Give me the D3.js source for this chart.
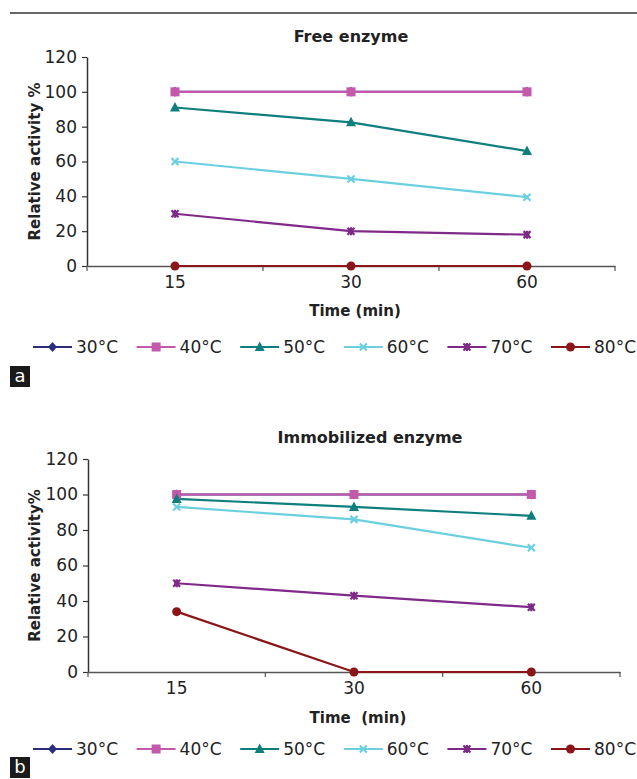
<!DOCTYPE html>
<html>
<head>
<meta charset="utf-8">
<script src="https://cdn.jsdelivr.net/npm/d3@7/dist/d3.min.js"></script>
<style>
  html, body { margin: 0; padding: 0; background: #fff; }
  svg { display: block; font-family: "DejaVu Sans", sans-serif; }
</style>
</head>
<body>
<svg id="chart" width="637" height="779"></svg>
<script>
// ---- data ----
const times = ["15", "30", "60"];
const seriesNames = ["30°C", "40°C", "50°C", "60°C", "70°C", "80°C"];
const yTicks = [0, 20, 40, 60, 80, 100, 120];

// Free enzyme (panel a)
const free30 = [100, 100, 100];
const free40 = [100, 100, 100];
const free50 = [91, 82.5, 66];
const free60 = [60, 50, 39.5];
const free70 = [30, 20, 18];
const free80 = [0, 0, 0];

// Immobilized enzyme (panel b)
const imm30 = [100, 100, 100];
const imm40 = [100, 100, 100];
const imm50 = [97.5, 93, 88];
const imm60 = [93, 86, 70];
const imm70 = [50, 43, 36.5];
const imm80 = [34, 0, 0];

const colors = ["#2b2d7e", "#c259ab", "#0f7f7d", "#6bcfe0", "#7f2a88", "#8a1619"];
const symbols = ["diamond", "square", "triangle", "cross", "star", "circle"];

const svg = d3.select("#chart");

// top rule
svg.append("line").attr("x1", 10).attr("x2", 637).attr("y1", 13).attr("y2", 13)
  .attr("stroke", "#333").attr("stroke-width", 1.5);

function marker(g, type, cx, cy, color) {
  if (type === "diamond") {
    g.append("path").attr("d", `M${cx},${cy-5}L${cx+4.5},${cy}L${cx},${cy+5}L${cx-4.5},${cy}Z`).attr("fill", color);
  } else if (type === "square") {
    g.append("rect").attr("x", cx-4.5).attr("y", cy-4.5).attr("width", 9).attr("height", 9).attr("fill", color);
  } else if (type === "triangle") {
    g.append("path").attr("d", `M${cx},${cy-5.5}L${cx+5},${cy+4}L${cx-5},${cy+4}Z`).attr("fill", color);
  } else if (type === "cross") {
    g.append("path").attr("d", `M${cx-3.5},${cy-3.5}L${cx+3.5},${cy+3.5}M${cx+3.5},${cy-3.5}L${cx-3.5},${cy+3.5}`)
      .attr("stroke", color).attr("stroke-width", 2.2);
  } else if (type === "star") {
    g.append("path").attr("d", `M${cx-3.5},${cy-3.5}L${cx+3.5},${cy+3.5}M${cx+3.5},${cy-3.5}L${cx-3.5},${cy+3.5}M${cx},${cy-4}L${cx},${cy+4}`)
      .attr("stroke", color).attr("stroke-width", 2.2);
    g.append("rect").attr("x", cx-2.5).attr("y", cy-2.5).attr("width", 5).attr("height", 5).attr("fill", color);
  } else if (type === "circle") {
    g.append("circle").attr("cx", cx).attr("cy", cy).attr("r", 4.5).attr("fill", color);
  }
}

function panel(opt) {
  const g = svg.append("g");
  const x = d3.scaleBand().domain(times).range([opt.x0, opt.x1]);
  const y = d3.scaleLinear().domain([0, 120]).range([opt.yBottom, opt.yTop]);

  // title
  g.append("text").attr("x", opt.titleX).attr("y", opt.titleY).attr("text-anchor", "middle")
    .attr("font-weight", "bold").attr("font-size", 16).attr("fill", "#222").text(opt.title);

  // y axis
  const ya = g.append("g").attr("transform", `translate(${opt.x0},0)`)
    .call(d3.axisLeft(y).tickValues(yTicks).tickSize(5).tickPadding(5).tickSizeOuter(0));
  ya.select(".domain").attr("stroke", "#333").attr("stroke-width", 1.5);
  ya.selectAll(".tick line").attr("stroke", "#333").attr("stroke-width", 1.2);
  ya.selectAll(".tick text").attr("font-size", 17).attr("font-family", "DejaVu Sans").attr("fill", "#222");

  // x axis
  const xa = g.append("g").attr("transform", `translate(0,${opt.yBottom})`)
    .call(d3.axisBottom(x).tickSize(0).tickPadding(10).tickSizeOuter(0));
  xa.select(".domain").attr("stroke", "#555").attr("stroke-width", 1.5);
  xa.selectAll(".tick text").attr("font-size", 17).attr("font-family", "DejaVu Sans").attr("fill", "#222");
  const bounds = d3.range(times.length + 1).map(i => opt.x0 + i * x.step());
  g.selectAll(".bt").data(bounds).enter().append("line")
    .attr("x1", d => d).attr("x2", d => d)
    .attr("y1", opt.yBottom).attr("y2", opt.yBottom + 5)
    .attr("stroke", "#555").attr("stroke-width", 1.2);

  // axis titles
  g.append("text").attr("transform", `translate(${opt.yTitleX},${(opt.yTop + opt.yBottom) / 2}) rotate(-90)`)
    .attr("text-anchor", "middle").attr("font-weight", "bold").attr("font-size", 15).attr("fill", "#222")
    .text(opt.yTitle);
  g.append("text").attr("x", opt.xTitleX).attr("y", opt.xTitleY).attr("text-anchor", "middle")
    .attr("font-weight", "bold").attr("font-size", 15).attr("fill", "#222")
    .attr("xml:space", "preserve").style("white-space", "pre")
    .text(opt.xTitle);

  // series lines
  const line = d3.line().x((d, i) => x(times[i]) + x.bandwidth() / 2).y(d => y(d));
  opt.data.forEach((vals, s) => {
    g.append("path").attr("d", line(vals)).attr("fill", "none")
      .attr("stroke", colors[s]).attr("stroke-width", 2.2);
  });
  opt.data.forEach((vals, s) => {
    vals.forEach((v, i) => marker(g, symbols[s], x(times[i]) + x.bandwidth() / 2, y(v), colors[s]));
  });

  // legend
  const lg = g.append("g");
  seriesNames.forEach((name, s) => {
    const lx = opt.legendX + s * opt.legendStep;
    lg.append("line").attr("x1", lx).attr("x2", lx + 39).attr("y1", opt.legendY).attr("y2", opt.legendY)
      .attr("stroke", colors[s]).attr("stroke-width", 2.2);
    marker(lg, symbols[s], lx + 19.5, opt.legendY, colors[s]);
    lg.append("text").attr("x", lx + 43).attr("y", opt.legendY + 6).attr("font-size", 17)
      .attr("fill", "#222").text(name);
  });

  // panel label
  g.append("rect").attr("x", 10).attr("y", opt.labelY).attr("width", 20).attr("height", 21).attr("fill", "#1a1a1a");
  g.append("text").attr("x", 20).attr("y", opt.labelY + 16).attr("text-anchor", "middle")
    .attr("font-size", 18).attr("fill", "#fff").text(opt.label);
}

panel({
  title: "Free enzyme", titleX: 351, titleY: 42,
  x0: 87, x1: 615, yTop: 57, yBottom: 266,
  yTitle: "Relative activity %", yTitleX: 40,
  xTitle: "Time (min)", xTitleX: 355, xTitleY: 316,
  data: [free30, free40, free50, free60, free70, free80],
  legendX: 33, legendStep: 103.6, legendY: 347,
  label: "a", labelY: 366
});

panel({
  title: "Immobilized enzyme", titleX: 370, titleY: 443,
  x0: 88, x1: 620, yTop: 459, yBottom: 672,
  yTitle: "Relative activity%", yTitleX: 40,
  xTitle: "Time  (min)", xTitleX: 358, xTitleY: 723,
  data: [imm30, imm40, imm50, imm60, imm70, imm80],
  legendX: 33, legendStep: 103.6, legendY: 749,
  label: "b", labelY: 757
});
</script>
</body>
</html>
